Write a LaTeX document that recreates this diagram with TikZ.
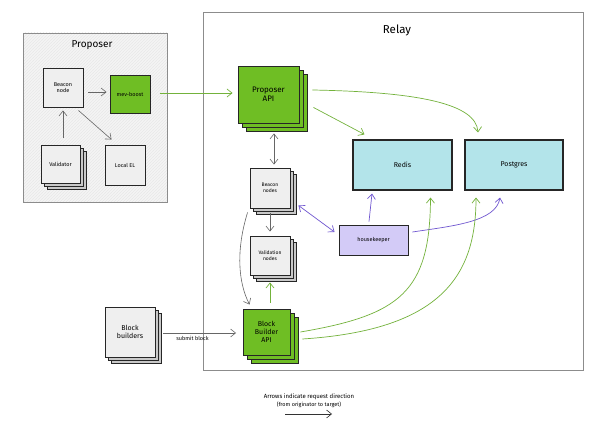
\documentclass[tikz,border=0pt]{standalone}
\usepackage{fontspec}
\setmainfont{Fira Sans}
\usetikzlibrary{shadows,patterns,arrows.meta}

\definecolor{apigreen}{HTML}{6FBE24}
\definecolor{dbcyan}{HTML}{B3E4EA}
\definecolor{hklilac}{HTML}{D3CBF7}
\definecolor{boxgray}{HTML}{EFEFEF}
\definecolor{stackgray}{HTML}{C9C9C9}
\definecolor{arrgreen}{HTML}{73B23B}
\definecolor{arrpurple}{HTML}{7057D0}
\definecolor{arrgray}{HTML}{666666}

\tikzset{%
  box/.style={
    rectangle,
    draw=black!85,
    line width=0.9pt,
    align=center,
    inner sep=1pt,
    font=\fontsize{5.5}{6.5}\selectfont
  },
  box plain/.style={box, fill=boxgray},
  box stack/.style={
    box,
    fill=boxgray,
    double copy shadow={shadow xshift=3pt, shadow yshift=-3pt,
      fill=stackgray, draw=black!85, line width=0.9pt}
  },
  api stack/.style={
    box,
    fill=apigreen,
    font=\fontsize{8}{9}\selectfont,
    double copy shadow={shadow xshift=4pt, shadow yshift=-4pt,
      fill=apigreen, draw=black!85, line width=0.9pt}
  },
  db/.style={box, fill=dbcyan, line width=1.1pt, font=\fontsize{7}{8}\selectfont},
  area/.style={draw=black!45, line width=0.8pt},
  area title/.style={font=\fontsize{10}{12}\selectfont},
  >={Straight Barb[length=5pt,width=8pt]},
  arr gray/.style={->, draw=arrgray, line width=0.6pt},
  arr green/.style={->, draw=arrgreen, line width=0.7pt},
  arr purple/.style={->, draw=arrpurple, line width=0.7pt},
  note/.style={font=\fontsize{5.5}{6.5}\selectfont}
}

\begin{document}
\begin{tikzpicture}[x=1pt, y=-1pt]
\useasboundingbox[fill=white] (0,0) rectangle (600,427);

% proposer side
\draw[area, preaction={fill=boxgray!70}, pattern=north east lines, pattern color=black!9] (23,33) rectangle (167,202);
\node[area title] (proposer title) at (92,45) {Proposer};
\node[box plain, minimum width=40pt, minimum height=39pt] (beacon) at (63,87.5) {Beacon\\node};
\node[box, fill=apigreen, minimum width=40pt, minimum height=38pt] (mevboost) at (130,94) {mev-boost};
\node[box stack, minimum width=39pt, minimum height=38pt] (validator) at (60.5,164) {Validator};
\node[box plain, minimum width=40pt, minimum height=40pt] (localel) at (125,165) {Local EL};

% relay side
\draw[area] (203,12) rectangle (583,370);
\node[area title, font=\fontsize{11.5}{13}\selectfont] (relay title) at (397,30) {Relay};
\node[api stack, minimum width=61pt, minimum height=57pt] (propapi) at (268.5,94.5) {Proposer\\API};
\node[db, minimum width=99pt, minimum height=50pt] (redis) at (402.5,165) {Redis};
\node[db, minimum width=98pt, minimum height=50pt] (postgres) at (514,165) {Postgres};
\node[box stack, font=\fontsize{5}{6}\selectfont, minimum width=40pt, minimum height=40pt] (beacons) at (270,188) {Beacon\\nodes};
\node[box stack, font=\fontsize{5}{6}\selectfont, minimum width=40pt, minimum height=39pt] (validation) at (270,255.5) {Validation\\nodes};
\node[api stack, font=\fontsize{7}{8}\selectfont, minimum width=47pt, minimum height=46pt] (bbapi) at (266.5,332) {Block\\Builder\\API};
\node[box, fill=hklilac, minimum width=69pt, minimum height=30pt] (housekeeper) at (373.5,240) {housekeeper};

% builders
\node[box stack, font=\fontsize{7}{8}\selectfont, minimum width=50pt, minimum height=50pt] (builders) at (130,332) {Block\\builders};

% proposer arrows
\draw[arr gray] ([shift={(5,4.5)}]beacon.east) -- ([shift={(-3,-2)}]mevboost.west);
\draw[arr gray] ([shift={(2.5,-7)}]validator.north) -- ([shift={(0,3)}]beacon.south);
\draw[arr gray] ([shift={(-5,3)}]beacon.south east) -- ([shift={(7,-5)}]localel.north west);
\draw[arr green] ([shift={(10,-1)}]mevboost.east) -- ([shift={(-5,-1.5)}]propapi.west);

% relay arrows
\draw[arr gray, <->] ([shift={(5.5,10)}]propapi.south) -- ([shift={(4,-3)}]beacons.north);
\draw[arr green] ([shift={(14,-16)}]propapi.south east) -- ([shift={(12,-5)}]redis.north west);
\draw[arr green] ([shift={(13,-4.5)}]propapi.east) .. controls (420,92) and (476,104) .. ([shift={(-36,-7)}]postgres.north);
\draw[arr gray] ([shift={(0,5)}]beacons.south) -- ([shift={(0,-4)}]validation.north);
\draw[arr gray] ([shift={(-2,4)}]beacons.south west) .. controls (236,250) and (238,282) .. ([shift={(7,-4)}]bbapi.north west);
\draw[arr green] ([shift={(3.5,-6)}]bbapi.north) -- ([shift={(0,7)}]validation.south);
\draw[arr purple, <->] ([shift={(8,-3)}]beacons.south east) -- ([shift={(-4,-8)}]housekeeper.west);
\draw[arr purple] ([shift={(-4.5,-3)}]housekeeper.north) -- ([shift={(-30.5,3)}]redis.south);
\draw[arr purple] ([shift={(4,-8)}]housekeeper.east) .. controls (452,226) and (496,222) .. ([shift={(-14,7)}]postgres.south);
\draw[arr green] ([shift={(10,0)}]bbapi.east) .. controls (400,315) and (430,292) .. ([shift={(28,7)}]redis.south);
\draw[arr green] ([shift={(12,7)}]bbapi.east) .. controls (442,330) and (476,275) .. ([shift={(-38,7)}]postgres.south);

% submit block
\draw[arr gray] ([shift={(8,1)}]builders.east) -- node[note, below=0pt, pos=0.4] {submit block} ([shift={(-6.5,1)}]bbapi.west);

% legend
\node[note, font=\fontsize{6}{7}\selectfont] (legend1) at (309,397) {Arrows indicate request direction};
\node[note] (legend2) at (309,405) {(from originator to target)};
\coordinate (legend from) at (285,414);
\coordinate (legend to) at (332,414);
\draw[->, draw=black!80, line width=0.6pt] (legend from) -- (legend to);
\end{tikzpicture}
\end{document}
